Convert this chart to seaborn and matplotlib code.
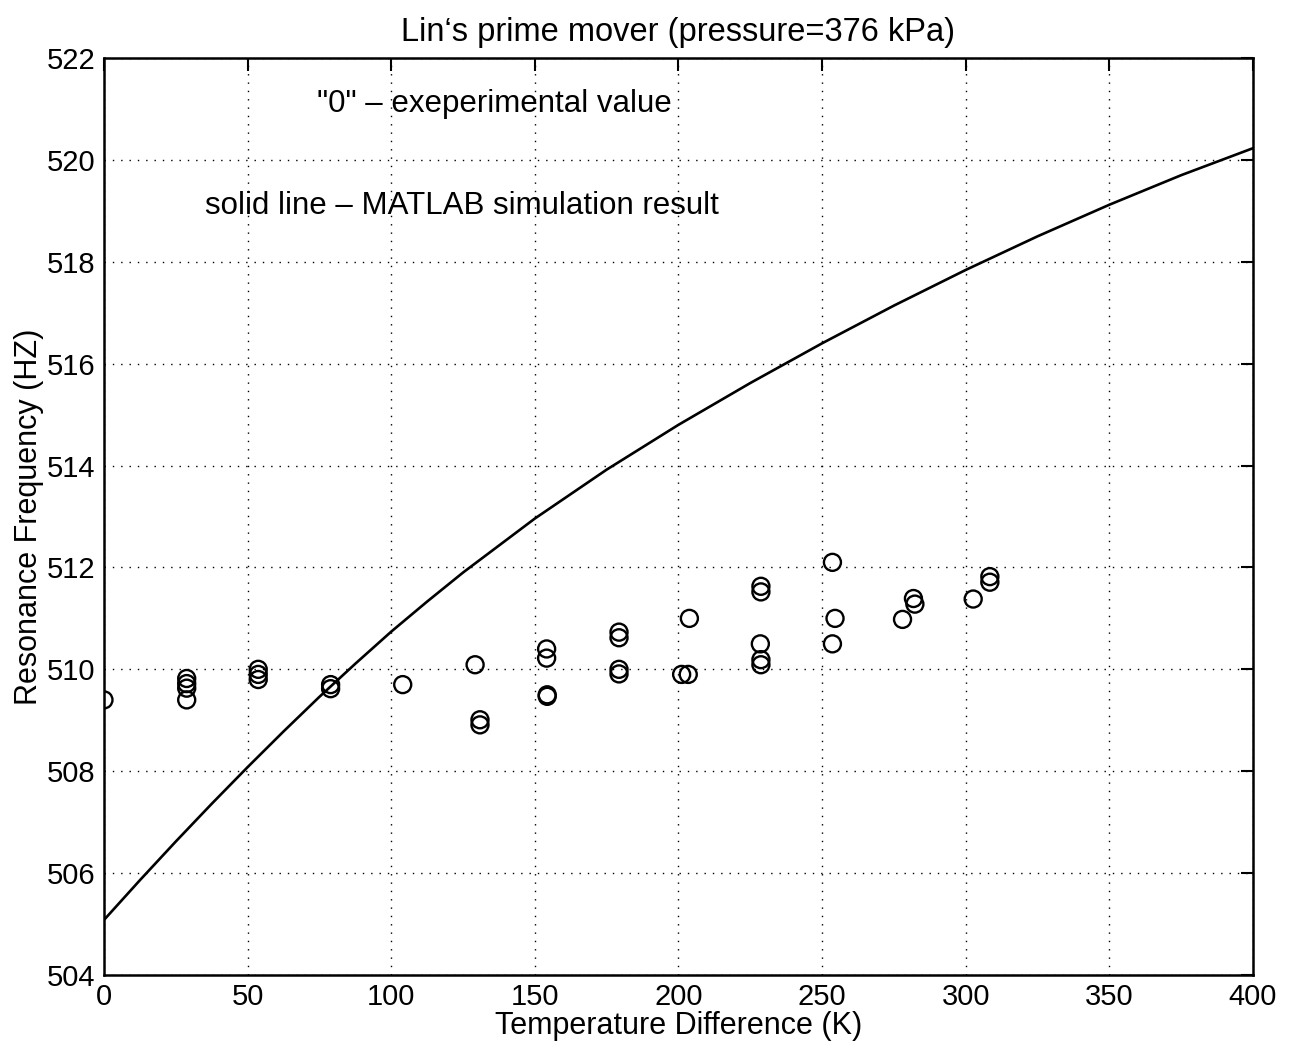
import matplotlib
matplotlib.use("Agg")
import matplotlib.pyplot as plt
import seaborn as sns
import pandas as pd

# Experimental values (temperature difference K, resonance frequency Hz)
exp_temp = [0,
            28.8, 28.8, 28.8, 28.8,
            53.7, 53.7, 53.7,
            78.9, 78.9,
            104.0,
            129.2,
            130.9, 130.9,
            154.1, 154.1, 154.3, 154.3,
            179.3, 179.3, 179.3, 179.3,
            201.1, 203.4, 203.8,
            228.7, 228.7, 228.5, 228.7, 228.7,
            253.6, 254.5, 253.6,
            278.0, 281.8, 282.3,
            302.6, 308.4, 308.4]
exp_freq = [509.40,
            509.40, 509.63, 509.72, 509.82,
            509.80, 509.90, 510.00,
            509.70, 509.62,
            509.70,
            510.09,
            509.01, 508.91,
            510.40, 510.22, 509.50, 509.47,
            510.73, 510.62, 510.00, 509.91,
            509.90, 509.90, 511.00,
            511.63, 511.52, 510.50, 510.19, 510.09,
            512.10, 511.00, 510.50,
            510.98, 511.39, 511.28,
            511.38, 511.82, 511.71]

# MATLAB simulation result
sim_temp = [0, 12.5, 25, 37.5, 50, 62.5, 75, 87.5, 100, 112.5, 125, 150, 175, 200, 225, 250,
            275, 300, 325, 350, 375, 400]
sim_freq = [505.08, 505.86, 506.62, 507.36, 508.08, 508.78, 509.46, 510.11, 510.74, 511.33,
            511.90, 512.96, 513.92, 514.80, 515.62, 516.40, 517.14, 517.84, 518.50, 519.12,
            519.70, 520.23]

x_ticks = [0, 50, 100, 150, 200, 250, 300, 350, 400]
y_ticks = [504, 506, 508, 510, 512, 514, 516, 518, 520, 522]

title = "Lin\u2018s prime mover (pressure=376 kPa)"
x_label = "Temperature Difference (K)"
y_label = "Resonance Frequency (HZ)"
note1 = "\"0\" \u2013 exeperimental value"
note2 = "solid line \u2013 MATLAB simulation result"

sns.set_style("white")
plt.rcParams['font.family'] = ['Liberation Sans', 'DejaVu Sans']
plt.rcParams['text.color'] = 'black'
plt.rcParams['axes.labelcolor'] = 'black'

exp_df = pd.DataFrame({"T": exp_temp, "f": exp_freq})
sim_df = pd.DataFrame({"T": sim_temp, "f": sim_freq})

fig = plt.figure(figsize=(12.9, 10.57), dpi=100)
ax = fig.add_axes([0.0806, 0.0776, 0.8907, 0.8675])

sns.lineplot(data=sim_df, x="T", y="f", color="black", linewidth=1.9, ax=ax)
sns.scatterplot(data=exp_df, x="T", y="f", marker="o", s=150, facecolors="none",
                edgecolor="black", linewidth=1.7, ax=ax, zorder=3)

ax.set_xlim(0, 400)
ax.set_ylim(504, 522)
ax.set_xticks(x_ticks)
ax.set_yticks(y_ticks)
ax.set_xticklabels([str(v) for v in x_ticks])
ax.set_yticklabels([str(v) for v in y_ticks])
ax.grid(True, linestyle=(0, (1, 5)), color="black", linewidth=1.0)
ax.tick_params(direction="in", length=9, width=1.5, top=True, right=True,
               labelsize=21, pad=6, colors="black")
for s in ax.spines.values():
    s.set_color("black")
    s.set_linewidth(1.8)

ax.set_title(title, fontsize=23.5, pad=12, color="black")
ax.set_xlabel(x_label, fontsize=22, labelpad=0)
ax.set_ylabel(y_label, fontsize=22, labelpad=2)

ax.text(74, 521.1, note1, fontsize=22.5, va="center", ha="left")
ax.text(35, 519.1, note2, fontsize=22.5, va="center", ha="left")

fig.savefig("out.png", dpi=100)
